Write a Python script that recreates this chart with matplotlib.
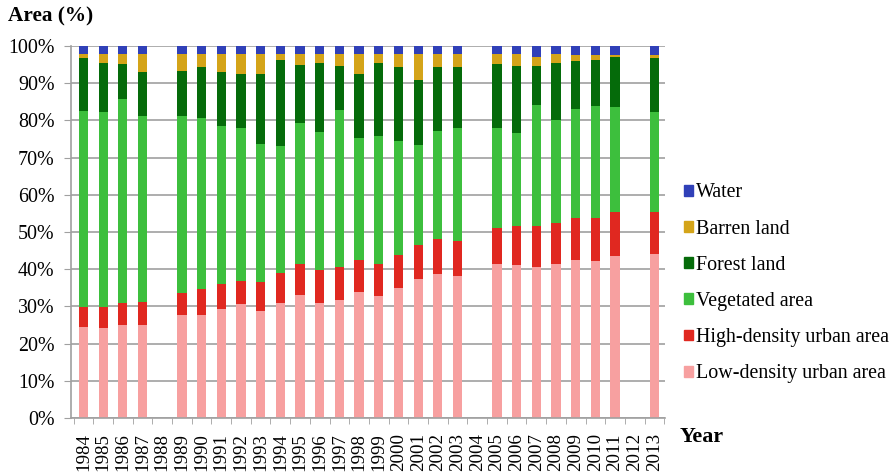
import numpy as np
import matplotlib
matplotlib.use("Agg")
from matplotlib import pyplot as plt
from matplotlib.patches import Patch

plt.rcParams['font.family'] = ['Liberation Serif', 'DejaVu Serif']

years = [str(y) for y in range(1984, 2014)]

# tops of each cumulative layer (%); None = no data that year
low_top = [24.6, 24.1, 25.0, 25.0, None, 27.7, 27.7, 29.2, 30.6, 28.8, 31.0, 33.0, 30.8, 31.7,
           33.9, 32.8, 35.0, 37.5, 38.8, 38.2, None, 41.5, 41.1, 40.6, 41.3, 42.4, 42.2, 43.6, None, 44.0]
high_top = [29.9, 29.9, 31.0, 31.3, None, 33.7, 34.6, 36.0, 36.9, 36.6, 39.1, 41.3, 39.9, 40.6,
            42.6, 41.5, 43.8, 46.6, 48.2, 47.6, None, 51.2, 51.5, 51.5, 52.4, 53.8, 53.8, 55.4, None, 55.5]
veg_top = [82.6, 82.4, 85.9, 81.3, None, 81.3, 80.6, 78.6, 78.1, 73.7, 73.2, 79.2, 76.8, 82.9,
           75.3, 75.9, 74.6, 73.4, 77.2, 77.9, None, 77.9, 76.6, 84.2, 80.2, 83.2, 83.9, 83.7, None, 82.4]
forest_top = [96.7, 95.4, 95.1, 93.1, None, 93.3, 94.5, 93.1, 92.4, 92.4, 96.3, 94.8, 95.4, 94.6,
              92.6, 95.4, 94.4, 90.8, 94.5, 94.4, None, 95.1, 94.6, 94.6, 95.4, 96.0, 96.3, 97.1, None, 96.9]
barren_top = [97.9, 98.0, 97.8, 98.0, None, 98.0, 98.0, 98.0, 97.8, 98.0, 98.0, 98.0, 98.0, 98.0,
              97.8, 98.0, 98.0, 98.0, 98.0, 98.0, None, 98.0, 98.0, 97.0, 97.8, 97.6, 97.6, 97.6, None, 97.6]

def arr(v):
    return np.array([np.nan if x is None else x for x in v], dtype=float)

low = arr(low_top)
high = arr(high_top) - arr(low_top)
veg = arr(veg_top) - arr(high_top)
forest = arr(forest_top) - arr(veg_top)
barren = arr(barren_top) - arr(forest_top)
water = 100 - arr(barren_top)

layers = [
    ("Low-density urban area", low, "#f7a0a0"),
    ("High-density urban area", high, "#e02820"),
    ("Vegetated area", veg, "#3dbf3d"),
    ("Forest land", forest, "#056b0a"),
    ("Barren land", barren, "#d4a419"),
    ("Water", water, "#3040b8"),
]

fig = plt.figure(figsize=(8.96, 4.75), dpi=100)
ax = fig.add_axes([0.0795, 0.12, 0.663, 0.783])

x = np.arange(len(years))
bottom = np.zeros(len(years))
for name, vals, col in layers:
    v = np.nan_to_num(vals)
    ax.bar(x, v, bottom=bottom, width=0.47, color=col, label=name, linewidth=0)
    bottom += v

ax.set_xlim(-0.62, len(years) - 0.45)
ax.set_ylim(0, 100)
ax.set_yticks(np.arange(0, 101, 10))
ax.set_yticklabels([f"{t}%" for t in range(0, 101, 10)], fontsize=14.4)
ax.yaxis.grid(True, color="#a0a0a0", linewidth=1.2)
ax.set_axisbelow(True)

ax.set_xticks(x)
ax.set_xticklabels(years, rotation=90, fontsize=13.6)
ax.set_xticks(np.arange(-0.5, len(years), 1), minor=True)
ax.tick_params(axis="x", which="major", length=0, pad=11)
ax.tick_params(axis="x", which="minor", length=4, color="#a0a0a0")
ax.tick_params(axis="y", length=5, color="#a0a0a0", pad=7)

for s in ["top", "right"]:
    ax.spines[s].set_visible(False)
for s in ["left", "bottom"]:
    ax.spines[s].set_color("#a0a0a0")
    ax.spines[s].set_linewidth(1.2)

fig.text(0.009, 0.966, "Area (%)", fontsize=15.3, fontweight="bold", va="center", ha="left")
fig.text(0.758, 0.08, "Year", fontsize=15.8, fontweight="bold", va="center", ha="left")

handles = [Patch(color=col, label=name) for name, _, col in layers][::-1]
fig.legend(handles=handles, loc="upper left", bbox_to_anchor=(0.763, 0.614),
           frameon=False, fontsize=14.4, handlelength=0.45, handleheight=0.45,
           handletextpad=0.15, labelspacing=0.86, borderpad=0, borderaxespad=0)

fig.savefig("out.png", dpi=100)
